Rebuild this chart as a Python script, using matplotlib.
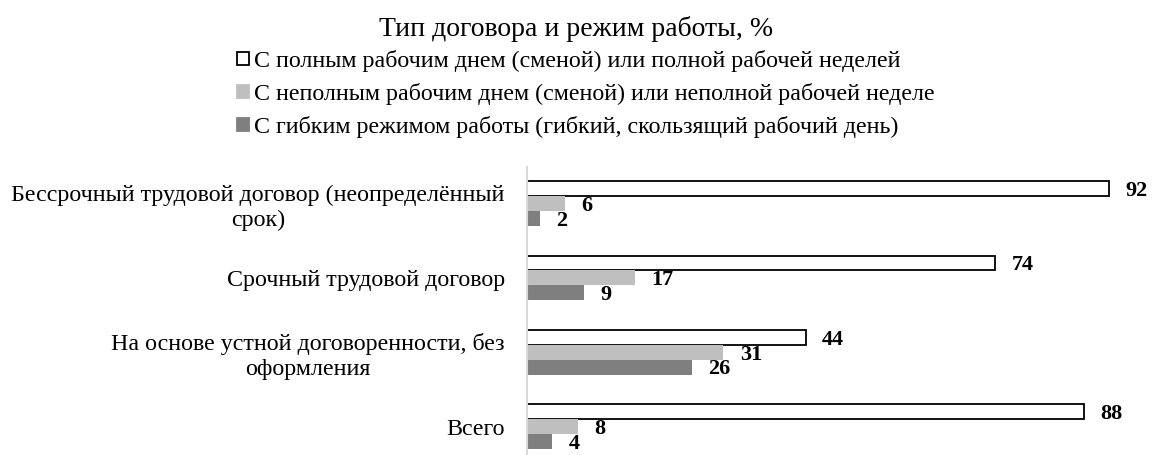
import numpy as np
import matplotlib
matplotlib.use("Agg")
import matplotlib.pyplot as plt
from matplotlib.patches import Patch

plt.rcParams['font.family'] = ['Liberation Serif', 'DejaVu Serif']

# data
categories = [
    "Бессрочный трудовой договор (неопределённый\nсрок)",
    "Срочный трудовой договор",
    "На основе устной договоренности, без\nоформления",
    "Всего",
]
series_names = [
    "С полным рабочим днем (сменой) или полной рабочей неделей",
    "С неполным рабочим днем (сменой) или неполной рабочей неделе",
    "С гибким режимом работы (гибкий, скользящий рабочий день)",
]
full_time = [92, 74, 44, 88]
part_time = [6, 17, 31, 8]
flexible = [2, 9, 26, 4]

title = "Тип договора и режим работы, %"

fig = plt.figure(figsize=(11.52, 4.55), dpi=100)
ax = fig.add_axes([527 / 1152, 0.0, 1 - 527 / 1152, 288 / 455])

y = np.arange(len(categories))
h = 0.2
series = [full_time, part_time, flexible]
faces = ["white", "#bfbfbf", "#7f7f7f"]
edges = ["black", "none", "none"]

for k, (vals, fc, ec) in enumerate(zip(series, faces, edges)):
    pos = y + (k - 1) * h
    bars = ax.barh(pos, vals, height=h, color=fc, edgecolor=ec,
                   linewidth=1.3 if ec != "none" else 0, label=series_names[k])
    for b, v in zip(bars, vals):
        ax.text(b.get_width() + 2.6, b.get_y() + b.get_height() / 2 + 0.03, str(v),
                ha="left", va="center", fontsize=16, fontweight="bold")

ax.set_xlim(0, (1152 - 527) / 6.33)
ax.set_ylim(3.38, -0.49)
ax.set_yticks(y)
ax.set_yticklabels(categories, fontsize=17.3, ha="right", multialignment="center",
                   linespacing=1.25)
ax.tick_params(axis="y", length=0, pad=16)
ax.set_xticks([])
for s in ["top", "right", "bottom"]:
    ax.spines[s].set_visible(False)
ax.spines["left"].set_color("#d9d9d9")
ax.spines["left"].set_linewidth(1.5)

fig.text(0.5, 1 - 36 / 455, title, ha="center", va="baseline", fontsize=20)

handles = [Patch(facecolor=fc, edgecolor=("black" if ec != "none" else fc), linewidth=1.3)
           for fc, ec in zip(faces, edges)]
fig.legend(handles, series_names, loc="upper left", bbox_to_anchor=(237 / 1152, 1 - 50 / 455),
           frameon=False, fontsize=17.3, handlelength=0.5, handleheight=0.5,
           handletextpad=0.2, labelspacing=0.46, borderpad=0, borderaxespad=0)

fig.savefig("out.png", dpi=100)
